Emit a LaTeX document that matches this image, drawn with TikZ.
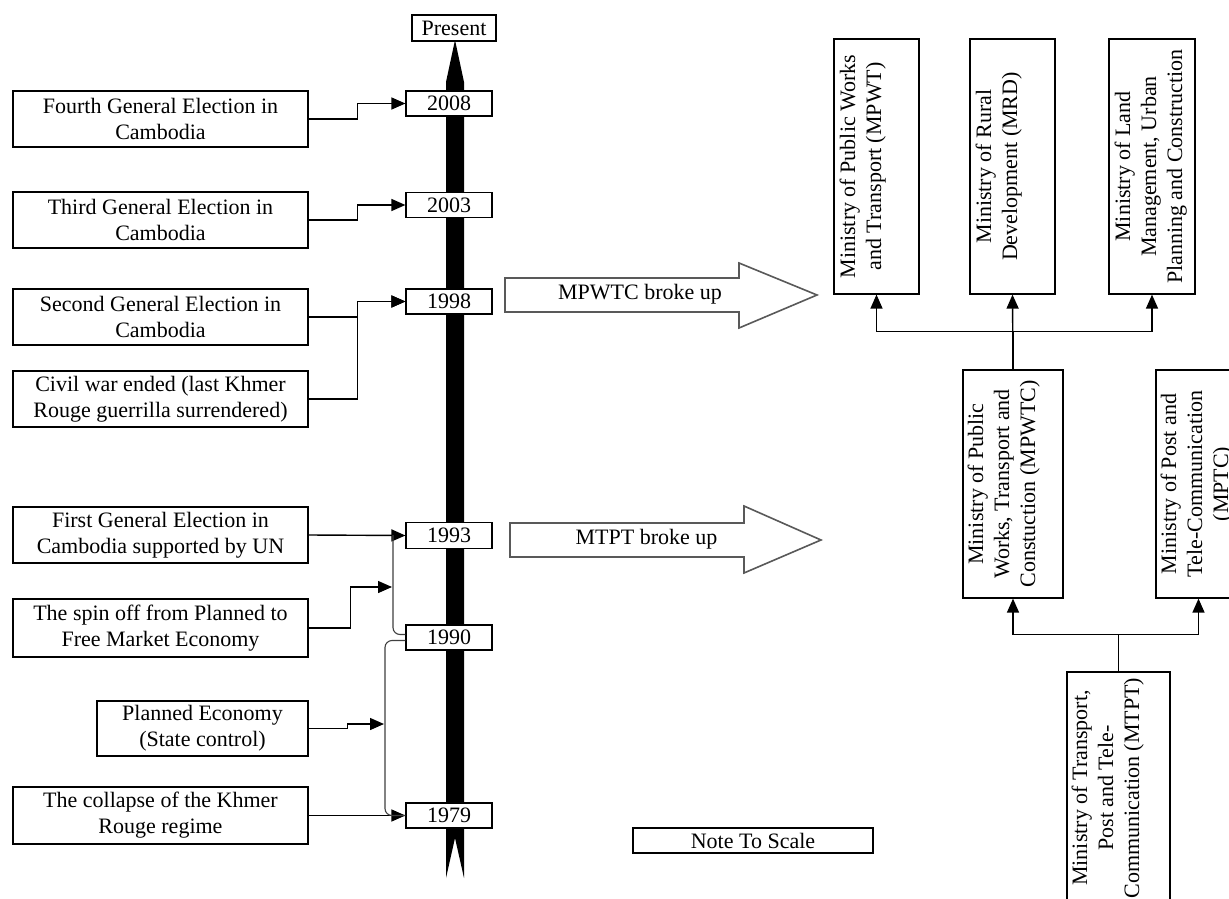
\documentclass[tikz,border=0pt]{standalone}
\usepackage{fontspec}
\setmainfont{Liberation Serif}
\usetikzlibrary{arrows.meta,calc}
\newcommand{\dfont}{\fontsize{22}{26}\selectfont}
\begin{document}
\begin{tikzpicture}[x=1pt,y=-1pt,
  box/.style={draw, line width=1.2pt, fill=white, inner sep=0pt, font=\dfont, align=center},
  bwh/.style 2 args={box, minimum width=#1, minimum height=#2},
  vtext/.style={rotate=90, font=\dfont, align=center, inner sep=0pt, anchor=north},
  conn/.style={line width=1.4pt, -{Triangle[length=14pt,width=12pt]}},
  brk/.style={line width=1.1pt, draw=black!75, rounded corners=7pt},
  barrow/.style={draw=black!65, line width=1.6pt, fill=white},
  lbl/.style={font=\dfont, inner sep=0pt}]
\useasboundingbox (0,0) rectangle (1229,899);
\clip (0,0) rectangle (1229,899);
\fill[white] (0,0) rectangle (1229,899);

% timeline bar
\fill[black] (446,82) -- (455,40) -- (464,82) -- (464,878) -- (455,838) -- (446,878) -- cycle;

% present and years
\node[bwh={84pt}{26pt}] (present) at (454,28) {Present};
\node[bwh={86pt}{25pt}] (y2008) at (449,103.5) {2008};
\node[bwh={86pt}{25pt}] (y2003) at (449,205) {2003};
\node[bwh={86pt}{25pt}] (y1998) at (449,301.5) {1998};
\node[bwh={86pt}{26pt}] (y1993) at (449,535.5) {1993};
\node[bwh={86pt}{25pt}] (y1990) at (449,637.5) {1990};
\node[bwh={86pt}{25pt}] (y1979) at (449,815.5) {1979};

% events
\node[bwh={295pt}{56pt}] (fourth) at (160.5,119) {Fourth General Election in\\Cambodia};
\node[bwh={295pt}{56pt}] (third) at (160.5,220) {Third General Election in\\Cambodia};
\node[bwh={295pt}{56pt}] (second) at (160.5,317) {Second General Election in\\Cambodia};
\node[bwh={295pt}{56pt}] (civil) at (160.5,399) {Civil war ended (last Khmer\\Rouge guerrilla surrendered)};
\node[bwh={295pt}{56pt}] (first) at (160.5,535) {First General Election in\\Cambodia supported by UN};
\node[bwh={295pt}{58pt}] (spin) at (160.5,628) {The spin off from Planned to\\Free Market Economy};
\node[bwh={211pt}{55pt}] (planned) at (202.5,728.5) {Planned Economy\\(State control)};
\node[bwh={295pt}{57pt}] (collapse) at (160.5,815.5) {The collapse of the Khmer\\Rouge regime};

% connectors
\draw[conn] (fourth.east) -- ++(49,0) |- (y2008.west);
\draw[conn] (third.east) -- ++(49,0) |- (y2003.west);
\draw[conn] (second.east) -- ++(49,0) |- (y1998.west);
\draw[conn] (civil.east) -- ++(49,0) |- (y1998.west);
\draw[conn] (first.east) -- (y1993.west);
\draw[conn] (collapse.east) -- (y1979.west);

\coordinate (btop) at (393,535);
\draw[brk] (btop) |- ([yshift=3pt]y1990.west);
\draw[brk] ([yshift=-3pt]y1990.west) -| (385,720) |- (y1979.west);
\coordinate (jspin) at (392,587);
\coordinate (jplan) at (384,724);
\draw[conn] (spin.east) -- ++(42,0) |- (jspin);
\draw[conn] (planned.east) -- ++(39,0) |- (jplan);

% block arrows
\draw[barrow] (505,278) -- (739,278) -- (739,263) -- (817,295) -- (739,328) -- (739,312) -- (505,312) -- cycle;
\node[lbl] (brk1) at (640,294) {MPWTC broke up};
\draw[barrow] (510,523) -- (744,523) -- (744,506) -- (821,540) -- (744,573) -- (744,557) -- (510,557) -- cycle;
\node[lbl] (brk2) at (646.5,539) {MTPT broke up};

% ministries
\node[bwh={85pt}{255pt}] (mpwt) at (876.5,166.5) {};
\node[vtext] (mpwtT) at ([xshift=6pt]mpwt.west) {Ministry of Public Works\\and Transport (MPWT)};
\node[bwh={85pt}{255pt}] (mrd) at (1012.5,166.5) {};
\node[vtext] (mrdT) at ([xshift=6pt]mrd.west) {Ministry of Rural\\Development (MRD)};
\node[bwh={86pt}{255pt}] (land) at (1152,166.5) {};
\node[vtext] (landT) at ([xshift=6pt]land.west) {Ministry of Land\\Management, Urban\\Planning and Construction};

\node[bwh={100pt}{228pt}] (mpwtc) at (1013,484) {};
\node[vtext] (mpwtcT) at ([xshift=5pt]mpwtc.west) {Ministry of Public\\Works, Transport and\\Constuction (MPWTC)};
\node[bwh={85pt}{228pt}] (mptc) at (1198.5,484) {};
\node[vtext] (mptcT) at ([xshift=5pt]mptc.west) {Ministry of Post and\\Tele-Communication\\(MPTC)};

\node[bwh={103pt}{232pt}] (mtpt) at (1118.5,788) {};
\node[vtext] (mtptT) at ([xshift=5pt]mtpt.west) {Ministry of Transport,\\Post and Tele-\\Communication (MTPT)};

\draw[conn] (mpwtc.north) -- (mrd.south);
\draw[conn] (mpwtc.north) -- ++(0,-38) -| (mpwt.south);
\draw[conn] (mpwtc.north) -- ++(0,-38) -| (land.south);
\draw[conn] (mtpt.north) -- ++(0,-37) -| (mpwtc.south);
\draw[conn] (mtpt.north) -- ++(0,-37) -| (mptc.south);

\node[bwh={240pt}{25pt}] (note) at (753,840.5) {Note To Scale};
\end{tikzpicture}
\end{document}
